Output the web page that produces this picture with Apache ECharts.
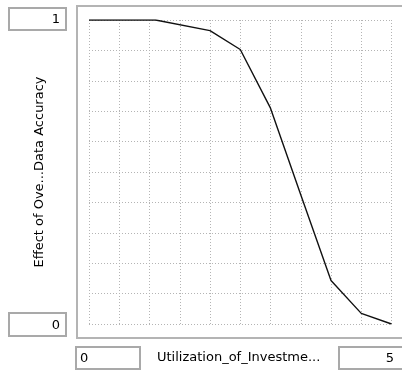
<!DOCTYPE html>
<html>
<head>
<meta charset="utf-8">
<script src="https://cdn.jsdelivr.net/npm/echarts@6/dist/echarts.min.js"></script>
<style>
  html, body { margin: 0; padding: 0; background: #fff; }
  #chart { width: 402px; height: 374px; }
</style>
</head>
<body>
<div id="chart"></div>
<script>
// Lookup table: effect of data accuracy vs. utilization of investment
const xValues = [0, 0.5, 1.1, 2.0, 2.5, 3.0, 3.5, 4.0, 4.5, 5.0];
const yValues = [1, 1, 1, 0.965, 0.903, 0.71, 0.425, 0.143, 0.035, 0];
const xRange = [0, 5];
const yRange = [0, 1];
const xTitle = 'Utilization_of_Investme...';
const yTitle = 'Effect of Ove...Data Accuracy';

const FONT = '"DejaVu Sans"';
const boxStroke = '#a9a9a9';

// bordered value box; textX is the anchor of the text inside it
function valueBox(x, y, w, h, text, align, textX) {
  return {
    type: 'group',
    children: [
      { type: 'rect', shape: { x: x, y: y, width: w, height: h },
        style: { fill: '#fff', stroke: boxStroke, lineWidth: 2 } },
      { type: 'text',
        style: {
          x: textX, y: y + h / 2 + 1,
          text: text, fill: '#000', font: '13px ' + FONT,
          textAlign: align, textVerticalAlign: 'middle'
        } }
    ]
  };
}

const chart = echarts.init(document.getElementById('chart'));
chart.setOption({
  animation: false,
  grid: { left: 89, top: 20, width: 302.5, height: 304 },
  xAxis: {
    type: 'value', min: xRange[0], max: xRange[1], interval: 0.5,
    axisLine: { show: false }, axisTick: { show: false }, axisLabel: { show: false },
    splitLine: { show: true, lineStyle: { color: '#b4b4b4', type: [1, 2], width: 1 } }
  },
  yAxis: {
    type: 'value', min: yRange[0], max: yRange[1], interval: 0.1,
    axisLine: { show: false }, axisTick: { show: false }, axisLabel: { show: false },
    splitLine: { show: true, lineStyle: { color: '#b4b4b4', type: [1, 2], width: 1 } }
  },
  series: [{
    type: 'line',
    data: xValues.map((x, i) => [x, yValues[i]]),
    showSymbol: false,
    lineStyle: { color: '#111', width: 1.4 }
  }],
  graphic: [
    // frame around the plotting area
    { type: 'rect', shape: { x: 77, y: 6, width: 340, height: 332 },
      style: { fill: 'rgba(0,0,0,0)', stroke: '#b4b4b4', lineWidth: 2 } },
    valueBox(9, 8, 57, 22, String(yRange[1]), 'right', 60),
    valueBox(9, 313, 57, 23, String(yRange[0]), 'right', 60),
    valueBox(76, 347, 64, 22, String(xRange[0]), 'left', 80),
    valueBox(339, 347, 70, 22, String(xRange[1]), 'right', 394),
    { type: 'text',
      style: { x: 157, y: 358, text: xTitle, fill: '#000', font: '13px ' + FONT,
               textAlign: 'left', textVerticalAlign: 'middle' } },
    { type: 'text', rotation: Math.PI / 2, x: 40, y: 172,
      style: { x: 0, y: 0, text: yTitle, fill: '#000', font: '13px ' + FONT,
               textAlign: 'center', textVerticalAlign: 'middle' } }
  ]
});
</script>
</body>
</html>
